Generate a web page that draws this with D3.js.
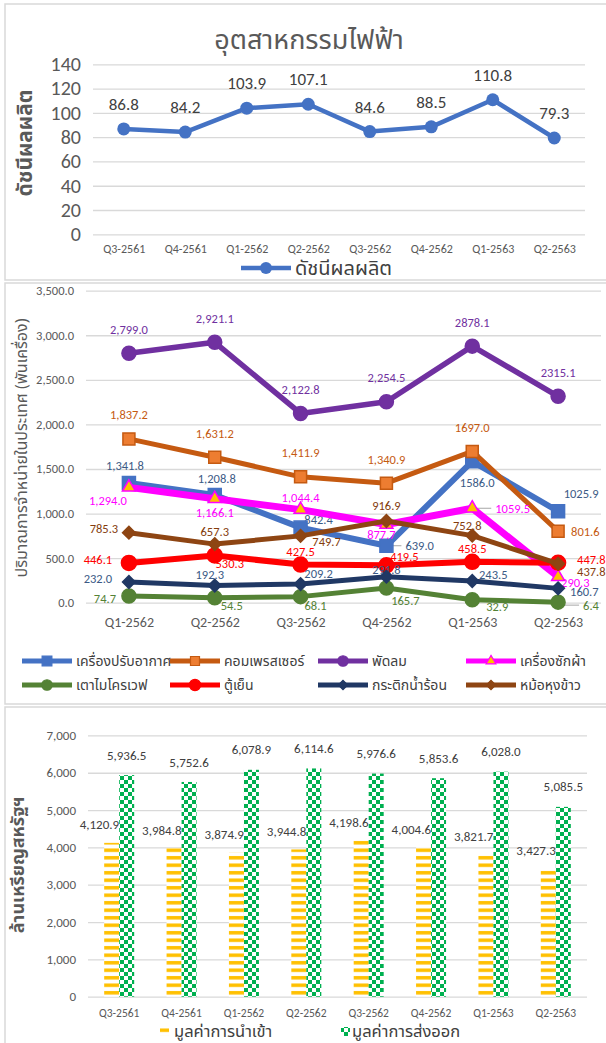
<!DOCTYPE html>
<html><head><meta charset="utf-8">
<script src="https://cdn.jsdelivr.net/npm/d3@7"></script>
<style>body{margin:0;background:#fff;} svg{display:block;}</style>
</head><body>
<svg id="c" width="606" height="1043"></svg>
<script>
// ---------------- DATA ----------------
const topTitle = "อุตสาหกรรมไฟฟ้า";
const topCats = ["Q3-2561","Q4-2561","Q1-2562","Q2-2562","Q3-2562","Q4-2562","Q1-2563","Q2-2563"];
const topSeriesName = "ดัชนีผลผลิต";
const productionIndex = [86.8, 84.2, 103.9, 107.1, 84.6, 88.5, 110.8, 79.3];
const topTicks = [0, 20, 40, 60, 80, 100, 120, 140];

const midCats = ["Q1-2562","Q2-2562","Q3-2562","Q4-2562","Q1-2563","Q2-2563"];
const midTitle = "ปริมาณการจำหน่ายในประเทศ (พันเครื่อง)";
const airConditioner = [1341.8, 1208.8, 842.4, 639.0, 1586.0, 1025.9];
const compressor     = [1837.2, 1631.2, 1411.9, 1340.9, 1697.0, 801.6];
const fan            = [2799.0, 2921.1, 2122.8, 2254.5, 2878.1, 2315.1];
const washingMachine = [1294.0, 1166.1, 1044.4, 877.7, 1059.5, 290.3];
const microwave      = [74.7, 54.5, 68.1, 165.7, 32.9, 6.4];
const refrigerator   = [446.1, 530.3, 427.5, 419.5, 458.5, 447.8];
const kettle         = [232.0, 192.3, 209.2, 291.8, 243.5, 160.7];
const riceCooker     = [785.3, 657.3, 749.7, 916.9, 752.8, 437.8];
const midNames = ["เครื่องปรับอากาศ","คอมเพรสเซอร์","พัดลม","เครื่องซักผ้า","เตาไมโครเวฟ","ตู้เย็น","กระติกน้ำร้อน","หม้อหุงข้าว"];
const midTicks = [0, 500, 1000, 1500, 2000, 2500, 3000, 3500];
const noCommaCats = ["Q1-2563","Q2-2563"];

const botCats = ["Q3-2561","Q4-2561","Q1-2562","Q2-2562","Q3-2562","Q4-2562","Q1-2563","Q2-2563"];
const botTitle = "ล้านเหรียญสหรัฐฯ";
const importValue = [4120.9, 3984.8, 3874.9, 3944.8, 4198.6, 4004.6, 3821.7, 3427.3];
const exportValue = [5936.5, 5752.6, 6078.9, 6114.6, 5976.6, 5853.6, 6028.0, 5085.5];
const botNames = ["มูลค่าการนำเข้า","มูลค่าการส่งออก"];
const botTicks = [0, 1000, 2000, 3000, 4000, 5000, 6000, 7000];

// ---------------- STYLE ----------------
const TH = "'Noto Sans Thai','Noto Sans Thai UI','Leelawadee UI',Tahoma,'Noto Sans',sans-serif";
const NUM = "Carlito,'Liberation Sans',Arial,sans-serif";
const GRID = "#D9D9D9";
const svg = d3.select("#c");

// panel borders
[[5,4,610,276],[5,283,610,421],[5,707,610,340]].forEach(([x,y,w,h])=>{
  svg.append("rect").attr("x",x).attr("y",y).attr("width",w).attr("height",h)
    .attr("fill","none").attr("stroke",GRID).attr("stroke-width",1.5);
});

function gridAxis(g, scale, ticks, x1, x2, fmt, size, color) {
  const ax = d3.axisLeft(scale).tickValues(ticks).tickSize(-(x2-x1)).tickPadding(12).tickFormat(fmt);
  g.attr("transform",`translate(${x1},0)`).call(ax);
  g.select(".domain").remove();
  g.selectAll(".tick line").attr("stroke",GRID).attr("stroke-width",1.3);
  g.selectAll(".tick text").attr("fill",color).style("font-family",NUM).style("font-size",size+"px");
}

// =============== TOP PANEL ===============
(function(){
  const x = d3.scalePoint().domain(topCats).range([93,585]).padding(0.5);
  const y = d3.scaleLinear().domain([0,140]).range([234.3,64.3]);
  gridAxis(svg.append("g"), y, topTicks, 93, 585, d3.format("d"), 20, "#595959");
  const xa = svg.append("g").attr("transform","translate(0,234.3)")
    .call(d3.axisBottom(x).tickSize(0).tickPadding(10));
  xa.select(".domain").remove();
  xa.selectAll("text").attr("fill","#595959").style("font-family",NUM).style("font-size","12px");

  svg.append("text").attr("x",309).attr("y",40).attr("text-anchor","middle").attr("dy","0.35em")
    .attr("fill","#595959").style("font-family",TH).style("font-size","27px").text(topTitle);
  svg.append("text").attr("transform","translate(25,143) rotate(-90)").attr("text-anchor","middle")
    .attr("dy","0.35em").attr("fill","#595959").style("font-family",TH).style("font-size","21px")
    .style("font-weight","bold").text(topSeriesName);

  const line = d3.line().x((d,i)=>x(topCats[i])).y(d=>y(d));
  svg.append("path").datum(productionIndex).attr("d",line).attr("fill","none")
    .attr("stroke","#4472C4").attr("stroke-width",4.5).attr("stroke-linejoin","round");
  svg.selectAll(".tpt").data(productionIndex).join("circle").attr("cx",(d,i)=>x(topCats[i]))
    .attr("cy",d=>y(d)).attr("r",6.5).attr("fill","#4472C4");
  svg.selectAll(".tlb").data(productionIndex).join("text").attr("x",(d,i)=>x(topCats[i]))
    .attr("y",d=>y(d)-25).attr("dy","0.35em").attr("text-anchor","middle").attr("fill","#404040")
    .style("font-family",NUM).style("font-size","17px").text(d=>d3.format(".1f")(d));

  // legend
  svg.append("line").attr("x1",241).attr("x2",291).attr("y1",268).attr("y2",268)
    .attr("stroke","#4472C4").attr("stroke-width",4.5);
  svg.append("circle").attr("cx",266).attr("cy",268).attr("r",6).attr("fill","#4472C4");
  svg.append("text").attr("x",295).attr("y",268).attr("dy","0.35em").attr("fill","#404040")
    .style("font-family",TH).style("font-size","20px").text(topSeriesName);
})();

// =============== MIDDLE PANEL ===============
(function(){
  const x = d3.scalePoint().domain(midCats).range([86,601]).padding(0.5);
  const y = d3.scaleLinear().domain([0,3500]).range([602.7,290.7]);
  gridAxis(svg.append("g"), y, midTicks, 86, 601, d3.format(",.1f"), 12.5, "#595959");
  const xa = svg.append("g").attr("transform","translate(0,602.7)")
    .call(d3.axisBottom(x).tickSize(0).tickPadding(14));
  xa.select(".domain").remove();
  xa.selectAll("text").attr("fill","#595959").style("font-family",NUM).style("font-size","14px");

  svg.append("text").attr("transform","translate(21,448) rotate(-90)").attr("text-anchor","middle")
    .attr("dy","0.35em").attr("fill","#595959").style("font-family",TH).style("font-size","16px")
    .text(midTitle);

  const series = [airConditioner, compressor, fan, washingMachine, microwave, refrigerator, kettle, riceCooker];
  const styles = [
    {c:"#4472C4", w:6,   m:"square",   s:13, fill:"#4472C4", st:"#4472C4", lc:"#3B5A85"},
    {c:"#C55A11", w:5,   m:"square",   s:12, fill:"#ED7D31", st:"#C55A11", lc:"#C55A11"},
    {c:"#7030A0", w:5.5, m:"circle",   s:7,  fill:"#7030A0", st:"#7030A0", lc:"#7030A0"},
    {c:"#FF00FF", w:7,   m:"triangle", s:13, fill:"#FFC000", st:"#FF00FF", lc:"#FF00FF"},
    {c:"#548235", w:5,   m:"circle",   s:7,  fill:"#548235", st:"#548235", lc:"#548235"},
    {c:"#FF0000", w:6,   m:"circle",   s:7.5,fill:"#FF0000", st:"#FF0000", lc:"#FF0000"},
    {c:"#203864", w:5,   m:"diamond",  s:9,  fill:"#203864", st:"#203864", lc:"#3B5A85"},
    {c:"#8E4513", w:5,   m:"diamond",  s:9,  fill:"#8E4513", st:"#8E4513", lc:"#843C0C"}
  ];
  // label offsets [dx, dy, anchor, leader]
  const labelOffsets = [
    [[-4,-17,"m"],[2,-16,"m"],[18,-8,"m"],[19,0,"s",1],[5,21,"m"],[23,-18,"m"]],
    [[0,-24,"m"],[0,-24,"m"],[0,-24,"m"],[0,-24,"m"],[0,-24,"m"],[13,0,"s"]],
    [[0,-24,"m"],[0,-24,"m"],[0,-24,"m"],[0,-24,"m"],[0,-24,"m"],[0,-24,"m"]],
    [[-21,13,"m"],[0,14,"m"],[0,-12,"m"],[-5,10,"m"],[23,0,"s",1],[3,6,"s"]],
    [[-24,3,"m"],[17,8,"m"],[15,9,"m"],[19,13,"m"],[25,7,"m"],[25,3,"s",1]],
    [[-31,-3,"m"],[15,8,"m"],[0,-13,"m"],[18,-9,"m"],[0,-13,"m"],[19,-3,"s"]],
    [[-31,-3,"m"],[-5,-11,"m"],[18,-10,"m"],[0,-7,"m"],[21,-6,"m"],[12,3,"s"]],
    [[-25,-4,"m"],[0,-12,"m"],[26,6,"m"],[0,-15,"m"],[-5,-10,"m"],[19,8,"s"]]
  ];
  const fmtComma = d3.format(",.1f"), fmtPlain = d3.format(".1f");
  function markerPath(st, scale){
    const k = scale||1;
    if (st.m==="square") return d3.symbol(d3.symbolSquare, Math.pow(st.s*k,2))();
    if (st.m==="circle") return d3.symbol(d3.symbolCircle, Math.PI*Math.pow(st.s*k,2))();
    if (st.m==="triangle") return d3.symbol(d3.symbolTriangle, Math.pow(st.s*k,2)*0.433)();
    if (st.m==="diamond") return d3.symbol(d3.symbolSquare, Math.pow(st.s*k,2))();
  }
  const line = d3.line().x((d,i)=>x(midCats[i])).y(d=>y(d));
  series.forEach((vals, si)=>{
    const st = styles[si];
    const g = svg.append("g");
    vals.forEach((v,i)=>{
      const [dx,dy,an,leader] = labelOffsets[si][i];
      const px = x(midCats[i]), py = y(v);
      const txt = noCommaCats.includes(midCats[i]) ? fmtPlain(v) : fmtComma(v);
      if (leader) g.append("line").attr("x1",px+2).attr("x2",px+dx-4).attr("y1",py+dy).attr("y2",py+dy)
        .attr("stroke","#A6A6A6").attr("stroke-width",1);
      g.append("text").attr("x",px+dx).attr("y",py+dy).attr("dy","0.35em")
        .attr("text-anchor",an==="s"?"start":"middle").attr("fill",st.lc)
        .style("font-family",NUM).style("font-size","12.5px").text(txt);
    });
    g.append("path").datum(vals).attr("d",line).attr("fill","none").attr("stroke",st.c)
      .attr("stroke-width",st.w).attr("stroke-linejoin","round");
    g.selectAll("path.mk").data(vals).join("path").attr("class","mk")
      .attr("transform",(d,i)=>`translate(${x(midCats[i])},${y(d)})${st.m==="diamond"?" rotate(45)":""}`)
      .attr("d",markerPath(st)).attr("fill",st.fill).attr("stroke",st.st).attr("stroke-width",1.5);
  });

  // legend
  const legX = [22,170,318,466], legY = [661,685];
  midNames.forEach((n,i)=>{
    const st = styles[i];
    const lx = legX[i%4], ly = legY[Math.floor(i/4)];
    svg.append("line").attr("x1",lx).attr("x2",lx+50).attr("y1",ly).attr("y2",ly)
      .attr("stroke",st.c).attr("stroke-width",Math.min(st.w,5));
    svg.append("path").attr("transform",`translate(${lx+25},${ly})${st.m==="diamond"?" rotate(45)":""}`)
      .attr("d",markerPath(st,0.75)).attr("fill",st.fill).attr("stroke",st.st).attr("stroke-width",1.2);
    svg.append("text").attr("x",lx+54).attr("y",ly).attr("dy","0.35em").attr("fill","#404040")
      .style("font-family",TH).style("font-size","14px").text(n);
  });
})();

// =============== BOTTOM PANEL ===============
(function(){
  const defs = svg.append("defs");
  const p1 = defs.append("pattern").attr("id","impPat").attr("patternUnits","userSpaceOnUse")
    .attr("width",16).attr("height",7.5);
  p1.append("rect").attr("width",16).attr("height",7.5).attr("fill","#fff");
  p1.append("rect").attr("y",1).attr("width",16).attr("height",3.5).attr("fill","#FFC000");
  const p2 = defs.append("pattern").attr("id","expPat").attr("patternUnits","userSpaceOnUse")
    .attr("width",8).attr("height",8);
  p2.append("rect").attr("width",8).attr("height",8).attr("fill","#fff");
  p2.append("rect").attr("width",4).attr("height",4).attr("fill","#00B050");
  p2.append("rect").attr("x",4).attr("y",4).attr("width",4).attr("height",4).attr("fill","#00B050");

  const x = d3.scaleBand().domain(botCats).range([88,587]);
  const xi = d3.scaleBand().domain(["imp","exp"]).range([-15,15]);
  const y = d3.scaleLinear().domain([0,7000]).range([996.7,735.4]);
  gridAxis(svg.append("g"), y, botTicks, 88, 587, d3.format(","), 13, "#595959");
  const xa = svg.append("g").attr("transform","translate(0,996.7)")
    .call(d3.axisBottom(x).tickSize(0).tickPadding(12));
  xa.select(".domain").remove();
  xa.selectAll("text").attr("fill","#595959").style("font-family",NUM).style("font-size","11.5px");

  svg.append("text").attr("transform","translate(18,865) rotate(-90)").attr("text-anchor","middle")
    .attr("dy","0.35em").attr("fill","#595959").style("font-family",TH).style("font-size","18px")
    .style("font-weight","bold").text(botTitle);

  const cx = c => x(c) + x.bandwidth()/2;
  svg.selectAll(".ib").data(importValue).join("rect")
    .attr("x",(d,i)=>cx(botCats[i])+xi("imp")).attr("width",xi.bandwidth())
    .attr("y",d=>y(d)).attr("height",d=>y(0)-y(d)).attr("fill","url(#impPat)");
  svg.selectAll(".eb").data(exportValue).join("rect")
    .attr("x",(d,i)=>cx(botCats[i])+xi("exp")).attr("width",xi.bandwidth())
    .attr("y",d=>y(d)).attr("height",d=>y(0)-y(d)).attr("fill","url(#expPat)");
  const f = d3.format(",.1f");
  svg.selectAll(".il").data(importValue).join("text")
    .attr("x",(d,i)=>cx(botCats[i])+xi("exp")).attr("y",d=>y(d)-18).attr("dy","0.35em")
    .attr("text-anchor","end").attr("fill","#404040").style("font-family",NUM).style("font-size","13px")
    .text(d=>f(d));
  svg.selectAll(".el").data(exportValue).join("text")
    .attr("x",(d,i)=>cx(botCats[i])+xi("exp")+xi.bandwidth()/2).attr("y",d=>y(d)-20).attr("dy","0.35em")
    .attr("text-anchor","middle").attr("fill","#404040").style("font-family",NUM).style("font-size","13px")
    .text(d=>f(d));

  // legend
  [[160,"url(#impPat)",174],[341,"url(#expPat)",352]].forEach(([sx,fill,tx],i)=>{
    svg.append("rect").attr("x",sx).attr("y",1027).attr("width",9).attr("height",9).attr("fill",fill);
    svg.append("text").attr("x",tx).attr("y",1031).attr("dy","0.35em").attr("fill","#404040")
      .style("font-family",TH).style("font-size","16.5px").text(botNames[i]);
  });
})();
</script>
</body></html>
